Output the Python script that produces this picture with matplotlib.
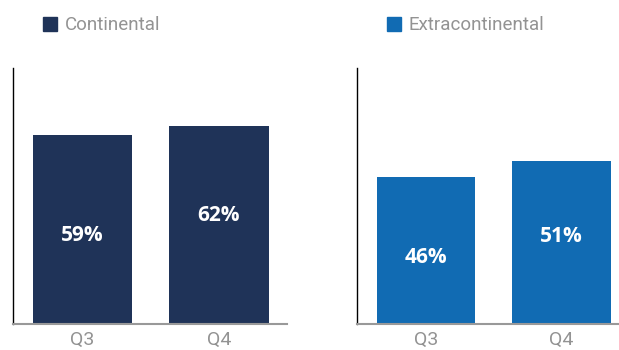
import matplotlib.pyplot as plt
from matplotlib.patches import Rectangle

quarters = ["Q3", "Q4"]
continental = [59, 62]
extracontinental = [46, 51]
# vertical spot for each percentage label (data units)
cont_label_y = [27.8, 34.0]
extra_label_y = [20.8, 27.5]

navy = "#1f3358"
blue = "#116bb3"
grey = "#939393"

fig = plt.figure(figsize=(6.19, 3.5), dpi=100)
W, H = 619, 350


def panel(x0, x1, values, label_y, color, name):
    ax = fig.add_axes([x0 / W, 26 / H, (x1 - x0) / W, 256 / H])
    ax.bar(range(len(values)), values, width=0.73, color=color)
    ax.set_xlim(-0.51, 1.5)
    ax.set_ylim(0, 80)
    ax.set_yticks([])
    ax.set_xticks(range(len(quarters)))
    ax.set_xticklabels(quarters, fontsize=14, color=grey, family="Roboto")
    ax.tick_params(axis="x", length=0, pad=5)
    for s in ["top", "right"]:
        ax.spines[s].set_visible(False)
    ax.spines["left"].set_color("black")
    ax.spines["left"].set_linewidth(1.0)
    ax.spines["bottom"].set_color("#999999")
    ax.spines["bottom"].set_linewidth(1.5)
    for i, v in enumerate(values):
        ax.text(i, label_y[i], f"{v}%", ha="center", va="center", color="white",
                fontsize=15, fontweight="bold", family="Open Sans")
    # legend square and name above the panel
    fig.patches.append(Rectangle(((x0 + 30) / W, (350 - 31) / H), 14 / W, 14 / H,
                                 transform=fig.transFigure, color=color))
    fig.text((x0 + 52) / W, (350 - 25) / H, name, ha="left", va="center",
             fontsize=13.5, color=grey, family="Roboto")
    return ax


panel(13, 287, continental, cont_label_y, navy, "Continental")
panel(357, 629, extracontinental, extra_label_y, blue, "Extracontinental")

fig.savefig("out.png", dpi=100)
